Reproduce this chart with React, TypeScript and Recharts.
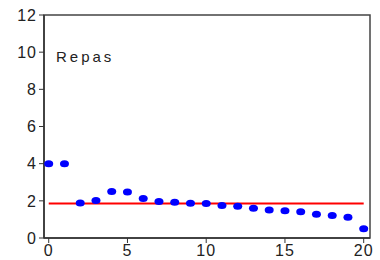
import React from 'react';
import { ScatterChart, Scatter, XAxis, YAxis, ReferenceLine, ReferenceArea } from 'recharts';

const xValues = [0, 1, 2, 3, 4, 5, 6, 7, 8, 9, 10, 11, 12, 13, 14, 15, 16, 17, 18, 19, 20];
const yValues = [4.0, 4.0, 1.89, 2.02, 2.5, 2.47, 2.13, 1.96, 1.93, 1.87, 1.86, 1.75, 1.71, 1.6, 1.51, 1.46, 1.41, 1.28, 1.21, 1.12, 0.5];
const meanLevel = 1.85;
const xTicks = [0, 5, 10, 15, 20];
const yTicks = [0, 2, 4, 6, 8, 10, 12];
const label = 'Repas';

const points = xValues.map((x, i) => ({ x, y: yValues[i] }));

const Dot = (props: any) => {
  const { cx, cy } = props;
  return <ellipse cx={cx} cy={cy} rx={4.5} ry={3.5} fill="#0000ff" />;
};

const tickStyle = { fontSize: 16, fill: '#222', fontFamily: 'Liberation Sans, Arial, sans-serif', letterSpacing: 1 };

const App = () => {
  return (
    <div style={{ position: 'absolute', left: 0, top: 0, width: 380, height: 260, background: '#fff' }}>
      <ScatterChart width={380} height={260} margin={{ top: 15, right: 10, left: 0, bottom: 0 }}>
        <XAxis
          type="number"
          dataKey="x"
          domain={[-0.3, 20.4]}
          ticks={xTicks}
          height={22}
          tickSize={5}
          tick={tickStyle}
          axisLine={{ stroke: '#333', strokeWidth: 1.5 }}
          tickLine={{ stroke: '#333' }}
          allowDataOverflow
        />
        <YAxis
          type="number"
          dataKey="y"
          domain={[0, 12]}
          ticks={yTicks}
          width={44}
          tickSize={5}
          tick={tickStyle}
          axisLine={{ stroke: '#333', strokeWidth: 1.5 }}
          tickLine={{ stroke: '#333' }}
        />
        <ReferenceArea
          x1={-0.3}
          x2={20.4}
          y1={0}
          y2={12}
          fill="none"
          stroke="#444"
          strokeWidth={1.5}
          fillOpacity={0}
          ifOverflow="visible"
        />
        <ReferenceLine
          segment={[{ x: 0, y: meanLevel }, { x: 20, y: meanLevel }]}
          stroke="#ff0000"
          strokeWidth={2}
          ifOverflow="visible"
        />
        <Scatter data={points} shape={<Dot />} isAnimationActive={false} />
      </ScatterChart>
      <div
        style={{
          position: 'absolute',
          left: 56,
          top: 48,
          fontFamily: 'Liberation Sans, Arial, sans-serif',
          fontSize: 15,
          letterSpacing: 3,
          color: '#222',
        }}
      >
        {label}
      </div>
    </div>
  );
};

export default App;
